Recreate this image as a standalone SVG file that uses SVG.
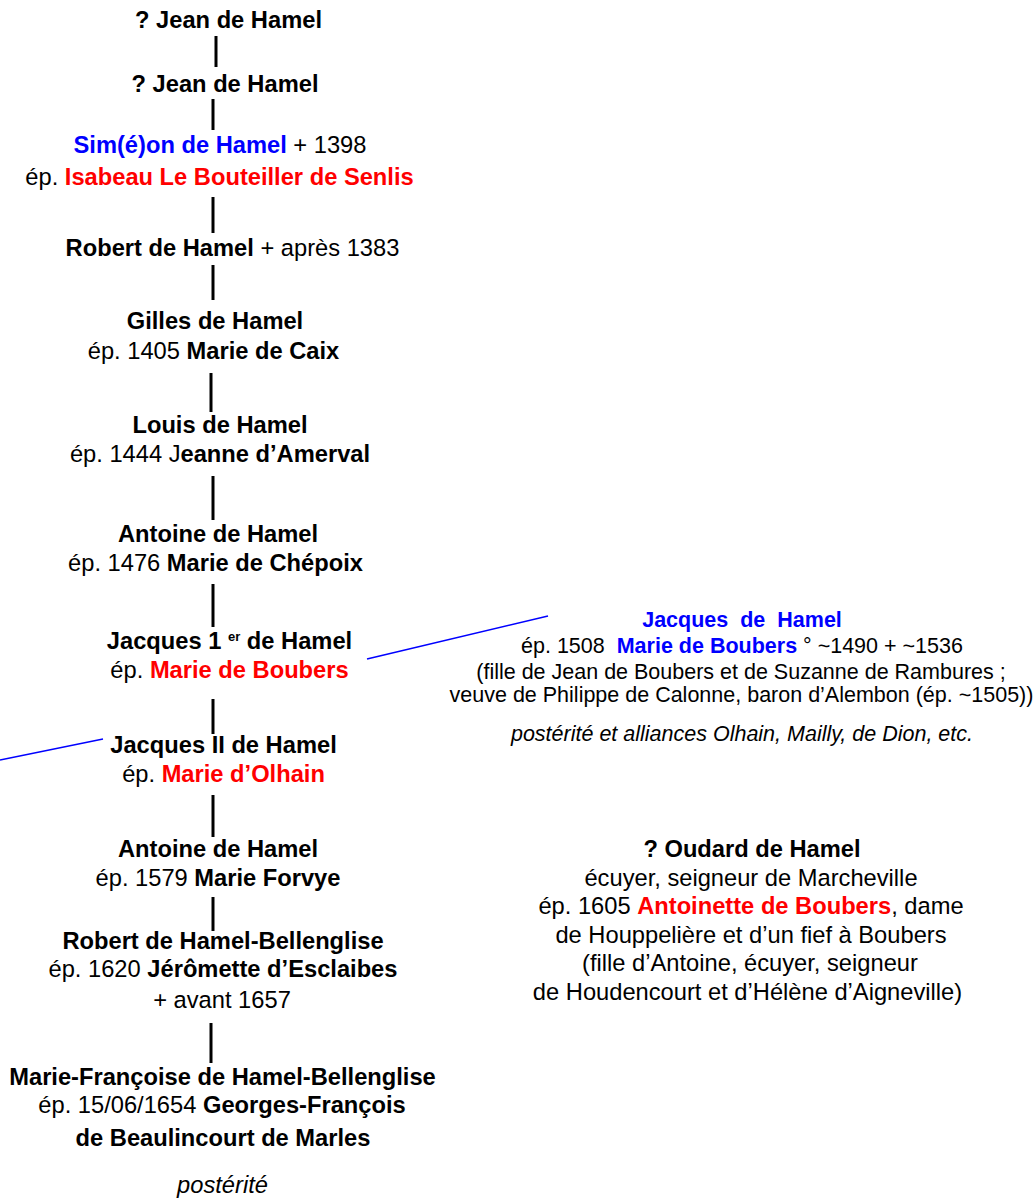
<svg xmlns="http://www.w3.org/2000/svg" width="1036" height="1200" viewBox="0 0 1036 1200">
<style>
text{font-family:"Liberation Sans",Arial,sans-serif;font-size:23.7px;fill:#000;text-anchor:middle}
.b{font-weight:bold}
.blue{fill:#0000ff;font-weight:bold}
.red{fill:#ff0000;font-weight:bold}
.i{font-style:italic}
.s{font-size:21.5px}
.sup{font-size:13px;font-weight:bold}
.c line{stroke:#000;stroke-width:3}
.c line.bl{stroke:#0000ff;stroke-width:1.5}
</style>
<rect width="1036" height="1200" fill="#fff"/>
<g class="c" id="connectors">
<line x1="216" y1="36" x2="216" y2="67"/>
<line x1="213" y1="99" x2="213" y2="130"/>
<line x1="213" y1="197" x2="213" y2="233"/>
<line x1="213" y1="265" x2="213" y2="300"/>
<line x1="211" y1="373" x2="211" y2="412"/>
<line x1="213" y1="476" x2="213" y2="520"/>
<line x1="213" y1="584" x2="213" y2="627"/>
<line x1="213" y1="699" x2="213" y2="734"/>
<line x1="213" y1="795" x2="213" y2="837"/>
<line x1="213" y1="897" x2="213" y2="931"/>
<line x1="211" y1="1023" x2="211" y2="1063"/>
<line class="bl" x1="367" y1="659" x2="548" y2="616"/>
<line class="bl" x1="0" y1="760" x2="103" y2="739"/>
</g>
<g id="n1"><text x="228.5" y="28" class="b">? Jean de Hamel</text></g>
<g id="n2"><text x="225" y="92" class="b">? Jean de Hamel</text></g>
<g id="n3">
<text x="220" y="153"><tspan class="blue">Sim(é)on de Hamel</tspan> + 1398</text>
<text x="219.5" y="185">ép. <tspan class="red">Isabeau Le Bouteiller de Senlis</tspan></text>
</g>
<g id="n4"><text x="232.5" y="256"><tspan class="b">Robert de Hamel</tspan> + après 1383</text></g>
<g id="n5">
<text x="215" y="329" class="b">Gilles de Hamel</text>
<text x="213.5" y="359">ép. 1405 <tspan class="b">Marie de Caix</tspan></text>
</g>
<g id="n6">
<text x="220" y="433" class="b">Louis de Hamel</text>
<text x="220" y="462">ép. 1444 J<tspan class="b">eanne d’Amerval</tspan></text>
</g>
<g id="n7">
<text x="218" y="542" class="b">Antoine de Hamel</text>
<text x="215.5" y="571">ép. 1476 <tspan class="b">Marie de Chépoix</tspan></text>
</g>
<g id="n8">
<text x="229.5" y="649" class="b">Jacques 1 <tspan class="sup" dy="-8">er</tspan><tspan dy="8"> de Hamel</tspan></text>
<text x="229.5" y="678">ép. <tspan class="red">Marie de Boubers</tspan></text>
</g>
<g id="n9">
<text x="223.5" y="753" class="b">Jacques II de Hamel</text>
<text x="223.5" y="782">ép. <tspan class="red">Marie d’Olhain</tspan></text>
</g>
<g id="n10">
<text x="218" y="857" class="b">Antoine de Hamel</text>
<text x="218" y="886">ép. 1579 <tspan class="b">Marie Forvye</tspan></text>
</g>
<g id="n11">
<text x="223" y="949" class="b">Robert de Hamel-Bellenglise</text>
<text x="223" y="977">ép. 1620 <tspan class="b">Jérômette d’Esclaibes</tspan></text>
<text x="222" y="1008">+ avant 1657</text>
</g>
<g id="n12">
<text x="222.5" y="1085" class="b">Marie-Françoise de Hamel-Bellenglise</text>
<text x="222" y="1113">ép. 15/06/1654 <tspan class="b">Georges-François</tspan></text>
<text x="223" y="1146" class="b">de Beaulincourt de Marles</text>
</g>
<g id="n13"><text x="222.5" y="1193" class="i">postérité</text></g>
<g id="n14">
<text x="742" y="627" class="s blue" word-spacing="6">Jacques de Hamel</text>
<text x="742" y="653" class="s" xml:space="preserve">ép. 1508  <tspan class="blue">Marie de Boubers</tspan> ° ~1490 + ~1536</text>
<text x="741" y="679" class="s">(fille de Jean de Boubers et de Suzanne de Rambures ;</text>
<text x="741.5" y="702" class="s">veuve de Philippe de Calonne, baron d’Alembon (ép. ~1505))</text>
<text x="742" y="741" class="s i">postérité et alliances Olhain, Mailly, de Dion, etc.</text>
</g>
<g id="n15">
<text x="752" y="857" class="b">? Oudard de Hamel</text>
<text x="751" y="886">écuyer, seigneur de Marcheville</text>
<text x="751" y="914">ép. 1605 <tspan class="red">Antoinette de Boubers</tspan>, dame</text>
<text x="751" y="943">de Houppelière et d’un fief à Boubers</text>
<text x="750" y="971">(fille d’Antoine, écuyer, seigneur</text>
<text x="747.5" y="1000">de Houdencourt et d’Hélène d’Aigneville)</text>
</g>
</svg>
